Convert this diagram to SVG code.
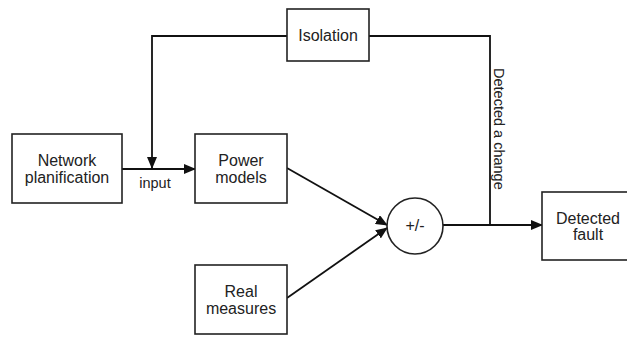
<svg xmlns="http://www.w3.org/2000/svg" width="627" height="337" viewBox="0 0 627 337">
<style>
.box{fill:#fff;stroke:#222;stroke-width:1.6}
.lbl{font-family:"Liberation Sans",Arial,sans-serif;font-size:16px;fill:#222;text-anchor:middle}
.sm{font-family:"Liberation Sans",Arial,sans-serif;font-size:14.5px;fill:#222}
.con{fill:none;stroke:#111;stroke-width:1.8}
</style>
<defs>
<marker id="ah" markerWidth="12" markerHeight="10" refX="11" refY="5" orient="auto" markerUnits="userSpaceOnUse">
<path d="M0,0 L12,5 L0,10 Z" fill="#111"/>
</marker>
</defs>
<rect width="627" height="337" fill="#fff"/>
<g id="connectors">
<line class="con" x1="122" y1="169" x2="195" y2="169" marker-end="url(#ah)"/>
<path class="con" d="M287,36 H152 V168" marker-end="url(#ah)"/>
<line class="con" x1="287" y1="168" x2="387" y2="225" marker-end="url(#ah)"/>
<line class="con" x1="287" y1="298" x2="387" y2="228" marker-end="url(#ah)"/>
<line class="con" x1="443" y1="225" x2="542" y2="225" marker-end="url(#ah)"/>
<path class="con" d="M490,225 V36 H369"/>
<text class="sm" x="155" y="188" text-anchor="middle">input</text>
<text class="sm" transform="translate(494,68) rotate(90)">Detected a change</text>
</g>
<g id="isolation">
<rect class="box" x="287" y="9" width="82" height="52"/>
<text class="lbl" x="328" y="41">Isolation</text>
</g>
<g id="network">
<rect class="box" x="12" y="134" width="110" height="69"/>
<text class="lbl" x="67" y="166">Network</text>
<text class="lbl" x="67" y="183">planification</text>
</g>
<g id="power">
<rect class="box" x="195" y="134" width="92" height="69"/>
<text class="lbl" x="241" y="166">Power</text>
<text class="lbl" x="241" y="183">models</text>
</g>
<g id="real">
<rect class="box" x="195" y="265" width="92" height="69"/>
<text class="lbl" x="241" y="297">Real</text>
<text class="lbl" x="241" y="314">measures</text>
</g>
<g id="sum">
<circle class="box" cx="415" cy="226" r="28"/>
<text class="lbl" x="415" y="231">+/-</text>
</g>
<g id="fault">
<rect class="box" x="542" y="192" width="94" height="68"/>
<text class="lbl" x="588" y="224">Detected</text>
<text class="lbl" x="588" y="240">fault</text>
</g>
</svg>
